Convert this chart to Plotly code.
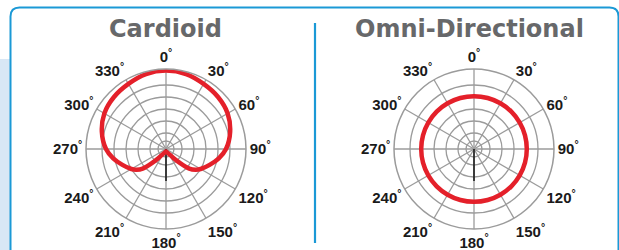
import plotly.graph_objects as go

W, H = 619, 250

# ---- data ----
titles = ["Cardioid", "Omni-Directional"]
angle_ticks = [0, 30, 60, 90, 120, 150, 180, 210, 240, 270, 300, 330]
angle_labels = ["0", "30", "60", "90", "120", "150", "180", "210", "240", "270", "300", "330"]
ring_values = [0.1, 0.2, 0.35, 0.5, 0.65, 0.8, 1.0]

cardioid_theta = [0, 15, 30, 45, 60, 75, 90, 100, 110, 120, 125, 130, 135, 140, 150, 165, 180,
                  195, 210, 220, 225, 230, 235, 240, 250, 260, 270, 285, 300, 315, 330, 345, 360]
cardioid_r = [0.98, 0.97, 0.94, 0.92, 0.89, 0.83, 0.75, 0.67, 0.58, 0.50, 0.45, 0.38, 0.25, 0.15, 0.07, 0.04, 0.03,
              0.04, 0.07, 0.15, 0.25, 0.38, 0.45, 0.50, 0.58, 0.67, 0.75, 0.83, 0.89, 0.92, 0.94, 0.97, 0.98]

omni_theta = [0, 15, 30, 45, 60, 75, 90, 105, 120, 135, 150, 165, 180,
              195, 210, 225, 240, 255, 270, 285, 300, 315, 330, 345, 360]
omni_r = [0.66, 0.66, 0.66, 0.66, 0.66, 0.66, 0.66, 0.66, 0.66, 0.66, 0.66, 0.66, 0.66,
          0.66, 0.66, 0.66, 0.66, 0.66, 0.66, 0.66, 0.66, 0.66, 0.66, 0.66, 0.66]

axis_marker_theta = [180, 180]
axis_marker_r = [0, 0.4]

# ---- styles ----
RED = "#e4202a"
GRID = "#9b9b9b"
BLUE = "#1b99d6"
LIGHT = "#d8e7f5"
TITLE_GRAY = "#67686a"

def px(x):
    return x / W

def py(y):
    return 1 - y / H

fig = go.Figure()

for name, th, rr, sub in [("cardioid", cardioid_theta, cardioid_r, "polar"),
                          ("omni", omni_theta, omni_r, "polar2")]:
    fig.add_trace(go.Scatterpolar(theta=axis_marker_theta, r=axis_marker_r, mode="lines",
                                  line=dict(color="#111111", width=1.5), subplot=sub,
                                  showlegend=False, hoverinfo="skip"))
    fig.add_trace(go.Scatterpolar(theta=th, r=rr, mode="lines",
                                  line=dict(color=RED, width=4.5, shape="spline", smoothing=0.8),
                                  subplot=sub, name=name, showlegend=False))

tick_text = [a + "<sup>°</sup>" for a in angle_labels]

def polar_layout(x0, x1, y0, y1):
    return dict(
        domain=dict(x=[px(x0), px(x1)], y=[py(y1), py(y0)]),
        bgcolor="rgba(0,0,0,0)",
        hole=0,
        radialaxis=dict(range=[0, 1], tickvals=ring_values, showticklabels=False, ticks="",
                        showline=False, gridcolor=GRID, gridwidth=1.3),
        angularaxis=dict(rotation=90, direction="clockwise", tickmode="array",
                         tickvals=angle_ticks, ticktext=tick_text, ticks="",
                         showline=True, linecolor=GRID, linewidth=1.5,
                         gridcolor=GRID, gridwidth=1.3,
                         tickfont=dict(family="Liberation Sans", size=15, color="#1a1a1a", weight=700)),
    )

fig.update_layout(
    width=W, height=H,
    margin=dict(l=0, r=0, t=0, b=0),
    paper_bgcolor="white", plot_bgcolor="white",
    template="none",
    polar=polar_layout(86, 246, 69, 229),
    polar2=polar_layout(394, 554, 69, 229),
)

# background decorations
r = 9
x0, x1, y0, y1 = 10.5, 618.5, 7.5, 262
path = (f"M {px(x0)} {py(y0 + r)} Q {px(x0)} {py(y0)} {px(x0 + r)} {py(y0)} "
        f"L {px(x1 - r)} {py(y0)} Q {px(x1)} {py(y0)} {px(x1)} {py(y0 + r)} "
        f"L {px(x1)} {py(y1)} L {px(x0)} {py(y1)} Z")
fig.add_shape(type="rect", xref="paper", yref="paper", x0=0, x1=px(10), y0=py(250), y1=py(59),
              fillcolor=LIGHT, line=dict(width=0), layer="below")
fig.add_shape(type="path", xref="paper", yref="paper", path=path,
              line=dict(color=BLUE, width=2), fillcolor="white", layer="below")
fig.add_shape(type="line", xref="paper", yref="paper", x0=px(315), x1=px(315), y0=py(23), y1=py(243),
              line=dict(color=BLUE, width=2.2))

for t, cx in zip(titles, [165, 469]):
    fig.add_annotation(text=t, xref="paper", yref="paper", x=px(cx), y=py(29),
                       xanchor="center", yanchor="middle", showarrow=False,
                       font=dict(family="DejaVu Sans", size=24, color=TITLE_GRAY, weight=700))

fig.write_html("out.html", config={"displayModeBar": False, "staticPlot": True},
               post_script="document.body.style.margin='0';document.body.style.overflow='hidden';")
